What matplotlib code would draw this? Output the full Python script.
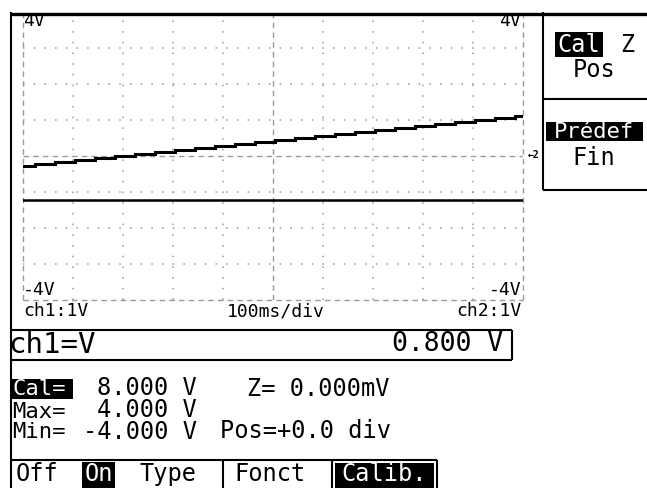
import matplotlib
matplotlib.use("Agg")
import matplotlib.pyplot as plt
from matplotlib.patches import Rectangle

# ---------------- data ----------------
step_times_ms = [0, 25, 65, 105, 145, 185, 225, 265, 305, 345, 385, 425, 465, 505,
                 545, 585, 625, 665, 705, 745, 785, 825, 865, 905, 945, 985]
ramp_levels_v = [-0.28, -0.21, -0.16, -0.11, -0.05, 0.00, 0.05, 0.11, 0.16, 0.21,
                 0.27, 0.33, 0.38, 0.44, 0.49, 0.55, 0.60, 0.66, 0.72, 0.78,
                 0.84, 0.89, 0.94, 1.00, 1.05, 1.11]
flat_times_ms = [0, 1000]
flat_levels_v = [-1.22, -1.22]
x_grid_ms = [100, 200, 300, 400, 600, 700, 800, 900]
y_grid_v = [-3, -2, -1, 1, 2, 3]
x_range_ms = [0, 1000]
y_range_v = [-4, 4]

W, H = 647, 488
DPI = 100
MONO = ["DejaVu Sans Mono"]
GRAY = "#9a9a9a"

fig = plt.figure(figsize=(W / DPI, H / DPI), dpi=DPI)
fig.patch.set_facecolor("white")

def px_box(x0, y0, x1, y1):
    return [x0 / W, 1 - y1 / H, (x1 - x0) / W, (y1 - y0) / H]

# ---------------- scope grid ----------------
ax = fig.add_axes(px_box(22.7, 12, 523, 300))
ax.set_xlim(*x_range_ms)
ax.set_ylim(*y_range_v)
ax.set_axis_off()
dot = (0, (1, 6))
dash = (0, (4, 3))
for xv in x_grid_ms:
    ax.axvline(xv, color=GRAY, lw=1.1, ls=dot, zorder=1)
for yv in y_grid_v:
    ax.axhline(yv, color=GRAY, lw=1.1, ls=dot, zorder=1)
ax.axvline(500, color=GRAY, lw=1.0, ls=dash, zorder=1)
ax.axhline(0, color=GRAY, lw=1.0, ls=dash, zorder=1)
ax.axvline(x_range_ms[0], color=GRAY, lw=1.0, ls=dash, zorder=1, clip_on=False)
ax.axvline(x_range_ms[1], color=GRAY, lw=1.0, ls=dash, zorder=1, clip_on=False)
ax.axhline(y_range_v[0], color=GRAY, lw=1.0, ls=dash, zorder=1, clip_on=False)

ramp_x = step_times_ms + [x_range_ms[1]]
ramp_y = ramp_levels_v + [ramp_levels_v[-1]]
ax.step(ramp_x, ramp_y, where="post", color="black", lw=2.2, zorder=3,
        solid_joinstyle="miter")
ax.plot(flat_times_ms, flat_levels_v, color="black", lw=1.8, zorder=3)

# ---------------- overlay (screen furniture) ----------------
ov = fig.add_axes([0, 0, 1, 1])
ov.set_xlim(0, W)
ov.set_ylim(H, 0)
ov.set_axis_off()
ov.patch.set_alpha(0)

def line(xs, ys, lw=1.5, color="black"):
    ov.plot(xs, ys, color=color, lw=lw, solid_capstyle="butt")

def txt(x, y, s, size, ha="left", color="black", **kw):
    return ov.text(x, y, s, fontsize=size, ha=ha, va="center", color=color,
                   family=MONO, **kw)

def blackbox(x0, y0, x1, y1):
    ov.add_patch(Rectangle((x0, y0), x1 - x0, y1 - y0, facecolor="black",
                           edgecolor="none", zorder=2))

# borders
line([10, W], [13.5, 13.5], lw=2.4)
line([11, 11], [12, H], lw=1.5)

# right soft-key panel
line([543, 543], [12, 190], lw=1.5)
line([543, W], [99, 99], lw=1.5)
line([543, W], [190, 190], lw=1.5)
blackbox(555, 32, 603, 57)
txt(579, 44.5, "Cal", 17, ha="center", color="white", zorder=3)
txt(620, 44.5, "Z", 17)
txt(594, 70, "Pos", 17, ha="center")
blackbox(546, 122, 643, 141)
txt(594.5, 131.5, "Prédef", 16, ha="center", color="white", zorder=3)
txt(594, 158, "Fin", 17, ha="center")
txt(534, 155, "←2", 7, ha="center", weight="bold")

# scale labels
txt(23, 21, "4V", 13)
txt(521, 21, "4V", 13, ha="right")
txt(23, 290, "-4V", 13)
txt(522, 290, "-4V", 13, ha="right")
txt(23, 311, "ch1:1V", 13)
txt(276, 311, "100ms/div", 13, ha="center")
txt(522, 311, "ch2:1V", 13, ha="right")

# formula box
line([10, 512], [330, 330], lw=1.5)
line([10, 512], [359.5, 359.5], lw=1.5)
line([512, 512], [330, 359.5], lw=1.5)
txt(8, 345, "ch1=V", 21)
txt(503, 344, "0.800 V", 19, ha="right")

# calibration parameters
blackbox(12, 379, 73, 399)
txt(12, 389, "Cal=", 16, color="white", zorder=3)
txt(12, 422, "Max=\nMin=", 16, linespacing=1.0)
txt(197, 410, "8.000 V\n4.000 V\n-4.000 V", 17, ha="right",
    multialignment="right", linespacing=0.88)
txt(247, 389, "Z= 0.000mV", 17)
txt(220, 431, "Pos=+0.0 div", 17)

# bottom menu
line([10, 437], [459.5, 459.5], lw=1.5)
line([223, 223], [459.5, H], lw=1.5)
line([332, 332], [459.5, H], lw=1.5)
line([437, 437], [459.5, H], lw=1.5)
txt(16, 474, "Off", 17)
blackbox(82, 462, 115, H)
txt(98.5, 474, "On", 17, ha="center", color="white", zorder=3)
txt(140, 474, "Type", 17)
txt(234, 474, "Fonct", 17)
blackbox(335, 463, 434, H)
txt(384.5, 474, "Calib.", 17, ha="center", color="white", zorder=3)

fig.savefig("out.png", dpi=DPI, facecolor="white")
